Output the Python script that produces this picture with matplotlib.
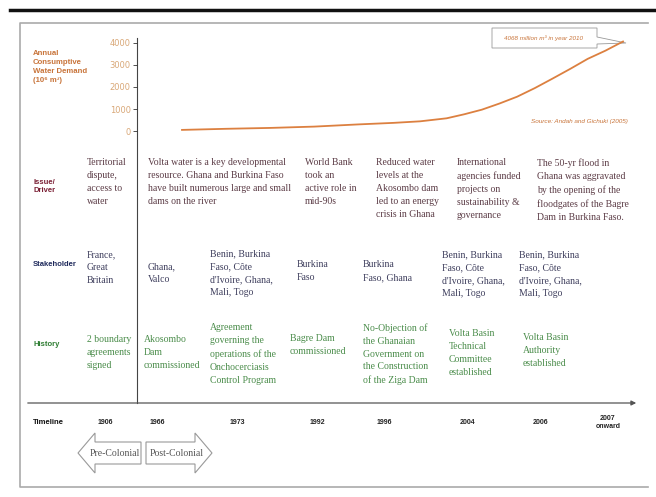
import matplotlib.pyplot as plt
from matplotlib.patches import Polygon

# demand curve (Andah and Gichuki 2005), million m3 per year
demand_years = [1960, 1965, 1970, 1975, 1980, 1984, 1987, 1990, 1992, 1994, 1996,
                1998, 2000, 2002, 2004, 2006, 2008, 2010]
demand_values = [50, 100, 140, 200, 300, 370, 440, 577, 760, 970, 1250,
                 1560, 1950, 2380, 2820, 3280, 3650, 4068]
demand_ticks = [0, 1000, 2000, 3000, 4000]

timeline_labels = ["1906", "1966", "1973", "1992", "1996", "2004", "2006", "2007\nonward"]

issue_texts = [
    "Territorial\ndispute,\naccess to\nwater",
    "Volta water is a key developmental\nresource. Ghana and Burkina Faso\nhave built numerous large and small\ndams on the river",
    "World Bank\ntook an\nactive role in\nmid-90s",
    "Reduced water\nlevels at the\nAkosombo dam\nled to an energy\ncrisis in Ghana",
    "International\nagencies funded\nprojects on\nsustainability &\ngovernance",
    "The 50-yr flood in\nGhana was aggravated\nby the opening of the\nfloodgates of the Bagre\nDam in Burkina Faso.",
]
stakeholder_texts = [
    "France,\nGreat\nBritain",
    "Ghana,\nValco",
    "Benin, Burkina\nFaso, Côte\nd'Ivoire, Ghana,\nMali, Togo",
    "Burkina\nFaso",
    "Burkina\nFaso, Ghana",
    "Benin, Burkina\nFaso, Côte\nd'Ivoire, Ghana,\nMali, Togo",
    "Benin, Burkina\nFaso, Côte\nd'Ivoire, Ghana,\nMali, Togo",
]
history_texts = [
    "2 boundary\nagreements\nsigned",
    "Akosombo\nDam\ncommissioned",
    "Agreement\ngoverning the\noperations of the\nOnchocerciasis\nControl Program",
    "Bagre Dam\ncommissioned",
    "No-Objection of\nthe Ghanaian\nGovernment on\nthe Construction\nof the Ziga Dam",
    "Volta Basin\nTechnical\nCommittee\nestablished",
    "Volta Basin\nAuthority\nestablished",
]

# layout (pixels)
issue_pos = [(87, 158), (148, 158), (305, 158), (376, 158), (457, 158), (537, 158)]
stake_pos = [(87, 250), (148, 262), (210, 249), (297, 260), (363, 260), (442, 250), (519, 250)]
hist_pos = [(87, 335), (144, 335), (210, 323), (290, 334), (363, 323), (449, 329), (523, 333)]
year_x = [105, 157, 237, 317, 384, 467, 541, 608]

SERIF = "Liberation Serif"
SANS = ["Liberation Sans", "DejaVu Sans"]
ORANGE = "#c8743a"

W, H = 656, 497
fig = plt.figure(figsize=(W / 100, H / 100), dpi=100)
ax = fig.add_axes([0, 0, 1, 1])
ax.set_xlim(0, W)
ax.set_ylim(H, 0)
ax.axis("off")

# frame
ax.plot([10, W], [10, 10], color="#111111", lw=2.5)
ax.plot([648, 20, 20, 648], [23, 23, 487, 487], color="#aaaaaa", lw=1.2)

# demand curve axes
left, top, right, bottom = 137, 38, 640, 140
dem = fig.add_axes([left / W, 1 - bottom / H, (right - left) / W, (bottom - top) / H])
dem.patch.set_alpha(0)
per_px = 4000 / 88
dem.set_ylim(0 - (140 - 131) * per_px, 4000 + (43 - 38) * per_px)
dem.set_xlim(1960 - 45 / 8.82, 2010 + 17 / 8.82)
dem.plot(demand_years, demand_values, color="#dc8040", lw=1.3)
for s in dem.spines.values():
    s.set_visible(False)
dem.set_xticks([])
dem.set_yticks(demand_ticks)
dem.tick_params(axis="y", length=3, width=0.6, color="#333333", pad=1.5,
                labelsize=6, labelcolor="#d9a878")

ax.text(33, 67, "Annual\nConsumptive\nWater Demand\n(10⁶ m³)", family=SANS, fontsize=5.6,
        fontweight="bold", color=ORANGE, va="center", ha="left", linespacing=1.35)

# callout
ax.add_patch(Polygon([(492, 28), (597, 28), (597, 37), (626, 43), (597, 44), (597, 48), (492, 48)],
                     closed=True, fc="white", ec="#999999", lw=0.6))
ax.text(544, 38.5, "4068 million m³ in year 2010", family=SANS, fontsize=4.5, style="italic",
        color=ORANGE, ha="center", va="center")
ax.text(628, 121, "Source: Andah and Gichuki (2005)", family=SANS, fontsize=4.6, style="italic",
        color=ORANGE, ha="right", va="center")

# separators
ax.plot([137, 137], [38, 403], color="#444444", lw=0.8)
ax.annotate("", xy=(639, 403), xytext=(25, 403),
            arrowprops=dict(arrowstyle="-|>", color="#555555", lw=0.9, mutation_scale=7))

# row labels
ax.text(33, 186, "Issue/\nDriver", family=SANS, fontsize=5.5, fontweight="bold", color="#7b2035",
        va="center", linespacing=1.2)
ax.text(33, 264, "Stakeholder", family=SANS, fontsize=5.5, fontweight="bold", color="#1f2a5c", va="center")
ax.text(33, 345, "History", family=SANS, fontsize=5.5, fontweight="bold", color="#2e7d32", va="center")
ax.text(33, 422, "Timeline", family=SANS, fontsize=5.5, fontweight="bold", color="#111111", va="center")

kw = dict(family=SERIF, fontsize=7, va="top", ha="left", linespacing=1.56)
for (x, y), t in zip(issue_pos, issue_texts):
    ax.text(x, y, t, color="#5b3b45", **kw)
for (x, y), t in zip(stake_pos, stakeholder_texts):
    ax.text(x, y, t, color="#3d3d5c", **kw)
for (x, y), t in zip(hist_pos, history_texts):
    ax.text(x, y, t, color="#4a8c4a", **kw)

for x, t in zip(year_x, timeline_labels):
    ax.text(x, 422, t, family=SANS, fontsize=5, fontweight="bold", color="#222222",
            ha="center", va="center", linespacing=1.2)

# colonial arrows
ax.add_patch(Polygon([(78, 453), (95, 433), (95, 442), (141, 442), (141, 464), (95, 464), (95, 473)],
                     closed=True, fc="white", ec="#999999", lw=0.8))
ax.add_patch(Polygon([(146, 442), (195, 442), (195, 433), (212, 453), (195, 473), (195, 464), (146, 464)],
                     closed=True, fc="white", ec="#999999", lw=0.8))
ax.text(115, 453, "Pre-Colonial", family=SERIF, fontsize=7, color="#555555", ha="center", va="center")
ax.text(177, 453, "Post-Colonial", family=SERIF, fontsize=7, color="#555555", ha="center", va="center")

fig.savefig("out.png", dpi=100)
